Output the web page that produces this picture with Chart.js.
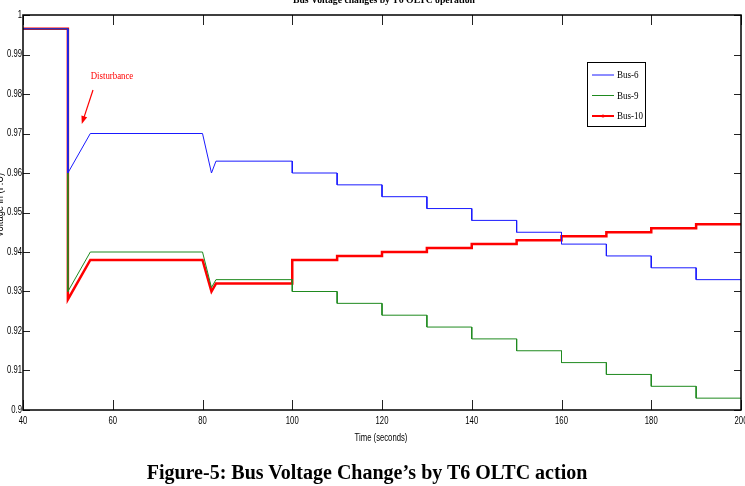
<!DOCTYPE html>
<html><head><meta charset="utf-8">
<script src="https://cdn.jsdelivr.net/npm/chart.js@4/dist/chart.umd.min.js"></script>
<style>
html,body{margin:0;padding:0;background:#fff;}
#wrap{position:relative;width:745px;height:486px;overflow:hidden;background:#fff;}
#c{position:absolute;left:0;top:0;}
#cap{position:absolute;left:0;width:734px;top:461px;text-align:center;font:bold 20px 'Liberation Serif','Times New Roman',serif;color:#000;white-space:nowrap;}
</style></head><body>
<div id="wrap"><canvas id="c" width="745" height="486"></canvas><div id="cap">Figure-5: Bus Voltage Change’s by T6 OLTC action</div></div>
<script>
// ---- data ----
const chartTitle = 'Bus Voltage changes by T6 OLTC operation';
const xTitle = 'Time (seconds)';
const yTitle = 'Voltage in (P.U)';
const seriesNames = ['Bus-6', 'Bus-9', 'Bus-10'];
const times = [40, 50, 50, 55, 80, 82, 83, 100, 100, 110, 110, 120, 120, 130, 130, 140, 140, 150, 150, 160, 160, 170, 170, 180, 180, 190, 190, 200];
const bus6  = [0.9965, 0.9965, 0.960, 0.970, 0.970, 0.960, 0.963, 0.963, 0.960, 0.960, 0.957, 0.957, 0.954, 0.954, 0.951, 0.951, 0.948, 0.948, 0.945, 0.945, 0.942, 0.942, 0.939, 0.939, 0.936, 0.936, 0.933, 0.933];
const bus9  = [0.9965, 0.9965, 0.930, 0.940, 0.940, 0.931, 0.933, 0.933, 0.930, 0.930, 0.927, 0.927, 0.924, 0.924, 0.921, 0.921, 0.918, 0.918, 0.915, 0.915, 0.912, 0.912, 0.909, 0.909, 0.906, 0.906, 0.903, 0.903];
const bus10 = [0.9965, 0.9965, 0.928, 0.938, 0.938, 0.930, 0.932, 0.932, 0.938, 0.938, 0.939, 0.939, 0.940, 0.940, 0.941, 0.941, 0.942, 0.942, 0.943, 0.943, 0.944, 0.944, 0.945, 0.945, 0.946, 0.946, 0.947, 0.947];
const xTicks = [40, 60, 80, 100, 120, 140, 160, 180, 200];
const yTicks = [0.9, 0.91, 0.92, 0.93, 0.94, 0.95, 0.96, 0.97, 0.98, 0.99, 1];
const annoText = 'Disturbance';
const annoTextAt = [55.1, 0.9844];
const annoArrowFrom = [55.6, 0.9810];
const annoArrowTo = [53.1, 0.9724];

const colors = ['#1a1aff', '#1f8a1f', '#ff0000'];
const widths = [1, 1, 2.5];
const sans = "'Liberation Sans', Arial, sans-serif";
const serif = "'Liberation Serif', 'Times New Roman', serif";

const seriesVals = [bus6, bus9, bus10];
const datasets = seriesVals.map((vals, i) => ({
  label: seriesNames[i],
  data: times.map((t, k) => ({x: t, y: vals[k]})),
  borderColor: colors[i],
  backgroundColor: colors[i],
  borderWidth: widths[i],
  pointRadius: 0,
  tension: 0,
  fill: false
}));

function condensedText(ctx, text, x, y, sx) {
  ctx.save();
  ctx.translate(x, y);
  ctx.scale(sx, 1);
  ctx.fillText(text, 0, 0);
  ctx.restore();
}

const deco = {
  id: 'deco',
  afterDatasetsDraw(chart) {
    const ctx = chart.ctx, a = chart.chartArea;
    const xs = chart.scales.x, ys = chart.scales.y;
    ctx.save();
    // inner ticks
    ctx.strokeStyle = '#222';
    ctx.lineWidth = 1;
    ctx.beginPath();
    xTicks.forEach(v => {
      const p = Math.round(xs.getPixelForValue(v)) + 0.5;
      ctx.moveTo(p, a.bottom); ctx.lineTo(p, a.bottom - 10);
      ctx.moveTo(p, a.top); ctx.lineTo(p, a.top + 10);
    });
    yTicks.forEach(v => {
      const p = Math.round(ys.getPixelForValue(v)) + 0.5;
      ctx.moveTo(a.left, p); ctx.lineTo(a.left + 7, p);
      ctx.moveTo(a.right, p); ctx.lineTo(a.right - 7, p);
    });
    ctx.stroke();
    // border
    ctx.strokeStyle = '#000';
    ctx.lineWidth = 1.5;
    ctx.strokeRect(a.left, a.top, a.right - a.left, a.bottom - a.top);

    // tick labels
    ctx.fillStyle = '#000';
    ctx.font = '10px ' + sans;
    ctx.textBaseline = 'middle';
    ctx.textAlign = 'center';
    xTicks.forEach(v => condensedText(ctx, String(v), xs.getPixelForValue(v), a.bottom + 11, 0.77));
    ctx.textAlign = 'right';
    yTicks.forEach(v => condensedText(ctx, String(Math.round(v * 100) / 100), a.left - 1, ys.getPixelForValue(v), 0.77));

    // title (clipped at top)
    ctx.font = 'bold 11px ' + serif;
    ctx.textBaseline = 'alphabetic';
    ctx.textAlign = 'left';
    const tw = ctx.measureText(chartTitle).width;
    condensedText(ctx, chartTitle, 384 - 91, 3, 182 / tw);

    // x title
    ctx.font = '10px ' + sans;
    ctx.textAlign = 'center';
    ctx.textBaseline = 'middle';
    condensedText(ctx, xTitle, 381, 438, 0.77);

    // y title
    ctx.save();
    ctx.translate(3, 205);
    ctx.rotate(-Math.PI / 2);
    ctx.font = '11px ' + sans;
    ctx.textAlign = 'center';
    ctx.textBaseline = 'alphabetic';
    ctx.scale(0.85, 1);
    ctx.fillText(yTitle, 0, 0);
    ctx.restore();

    // annotation
    ctx.fillStyle = '#ff0000';
    ctx.strokeStyle = '#ff0000';
    ctx.font = '10px ' + serif;
    ctx.textAlign = 'left';
    ctx.textBaseline = 'middle';
    condensedText(ctx, annoText, xs.getPixelForValue(annoTextAt[0]), ys.getPixelForValue(annoTextAt[1]), 0.88);
    const x0 = xs.getPixelForValue(annoArrowFrom[0]), y0 = ys.getPixelForValue(annoArrowFrom[1]);
    const x1 = xs.getPixelForValue(annoArrowTo[0]), y1 = ys.getPixelForValue(annoArrowTo[1]);
    const ang = Math.atan2(y1 - y0, x1 - x0);
    ctx.lineWidth = 1.2;
    ctx.beginPath();
    ctx.moveTo(x0, y0);
    ctx.lineTo(x1 - 6 * Math.cos(ang), y1 - 6 * Math.sin(ang));
    ctx.stroke();
    ctx.beginPath();
    ctx.moveTo(x1, y1);
    ctx.lineTo(x1 - 8 * Math.cos(ang) + 3 * Math.sin(ang), y1 - 8 * Math.sin(ang) - 3 * Math.cos(ang));
    ctx.lineTo(x1 - 8 * Math.cos(ang) - 3 * Math.sin(ang), y1 - 8 * Math.sin(ang) + 3 * Math.cos(ang));
    ctx.closePath();
    ctx.fill();

    // legend
    const lx = 587.5, ly = 62.5, lw = 58, lh = 64;
    ctx.fillStyle = '#fff';
    ctx.fillRect(lx, ly, lw, lh);
    ctx.strokeStyle = '#000';
    ctx.lineWidth = 1;
    ctx.strokeRect(lx, ly, lw, lh);
    const rows = [75, 95.5, 116];
    chart.data.datasets.forEach((ds, i) => {
      const y = rows[i];
      ctx.strokeStyle = ds.borderColor;
      ctx.lineWidth = Math.max(1, ds.borderWidth * 0.8);
      ctx.beginPath();
      ctx.moveTo(592, y); ctx.lineTo(614, y);
      ctx.stroke();
      if (i === 2) {
        ctx.fillStyle = ds.borderColor;
        ctx.beginPath();
        ctx.arc(603, y, 1.6, 0, Math.PI * 2);
        ctx.fill();
      }
      ctx.fillStyle = '#000';
      ctx.font = '11px ' + serif;
      ctx.textAlign = 'left';
      ctx.textBaseline = 'middle';
      condensedText(ctx, ds.label, 617, y + 0.5, 0.82);
    });
    ctx.restore();
  }
};

new Chart(document.getElementById('c'), {
  type: 'line',
  data: { datasets },
  options: {
    responsive: false,
    animation: false,
    devicePixelRatio: 1,
    layout: { autoPadding: false, padding: { left: 0, right: 4, top: 15, bottom: 0 } },
    plugins: { legend: { display: false }, tooltip: { enabled: false }, title: { display: false } },
    scales: {
      x: {
        type: 'linear', min: 40, max: 200,
        grid: { display: false }, border: { display: false },
        ticks: { display: false },
        afterFit(s) { s.height = 76; s.paddingLeft = 0; s.paddingRight = 0; },
        afterBuildTicks(s) { s.ticks = xTicks.map(v => ({ value: v })); }
      },
      y: {
        type: 'linear', min: 0.9, max: 1,
        grid: { display: false }, border: { display: false },
        ticks: { display: false },
        afterFit(s) { s.width = 23; s.paddingTop = 0; s.paddingBottom = 0; },
        afterBuildTicks(s) { s.ticks = yTicks.map(v => ({ value: v })); }
      }
    }
  },
  plugins: [deco]
});
</script>
</body></html>
